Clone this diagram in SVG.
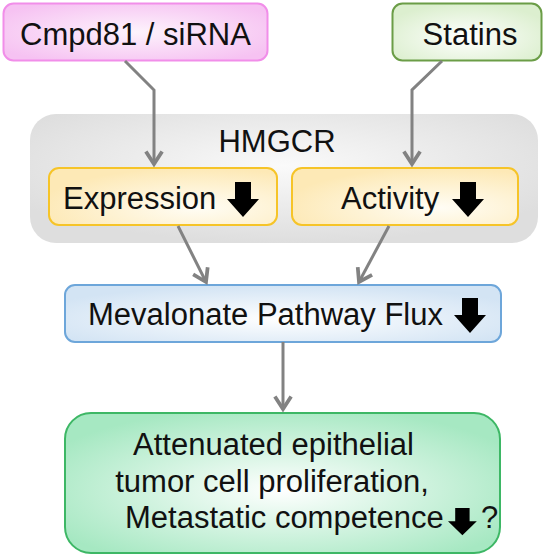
<svg xmlns="http://www.w3.org/2000/svg" width="549" height="558" viewBox="0 0 549 558">
<style>
.t{font-family:"Liberation Sans",Arial,sans-serif;font-size:31px;fill:#111}
.c{fill:none;stroke:#828282;stroke-width:3}
.dn{fill:#000}
</style>
<defs>
<radialGradient id="gPink" cx="0.5" cy="0.5" r="0.6"><stop offset="0" stop-color="#fdf3fc"/><stop offset="1" stop-color="#f6c2f2"/></radialGradient>
<radialGradient id="gLime" cx="0.5" cy="0.6" r="0.6"><stop offset="0" stop-color="#ffffff"/><stop offset="1" stop-color="#dcefcf"/></radialGradient>
<radialGradient id="gGray" cx="0.5" cy="0.4" r="0.6"><stop offset="0" stop-color="#fafafa"/><stop offset="1" stop-color="#dedede"/></radialGradient>
<radialGradient id="gYel" cx="0.65" cy="0.7" r="0.7"><stop offset="0" stop-color="#fffdf5"/><stop offset="1" stop-color="#fde9b6"/></radialGradient>
<radialGradient id="gBlue" cx="0.5" cy="0.6" r="0.6"><stop offset="0" stop-color="#ffffff"/><stop offset="1" stop-color="#d3e4f4"/></radialGradient>
<radialGradient id="gGreen" cx="0.5" cy="0.55" r="0.6"><stop offset="0" stop-color="#ffffff"/><stop offset="1" stop-color="#a6e8c2"/></radialGradient>
<marker id="ah" markerUnits="userSpaceOnUse" markerWidth="20" markerHeight="20" viewBox="-12 -8 14 16" refX="0" refY="0" orient="auto">
<path d="M-10,-6.5 L0,0 L-10,6.5" fill="none" stroke="#828282" stroke-width="3"/>
</marker>
<path id="dArrow" d="M8,0 H24 V17 H32 L16,35 L0,17 H8 Z"/>
</defs>

<g id="cmpd81">
<rect x="3.5" y="3.5" width="264" height="57" rx="10" fill="url(#gPink)" stroke="#f18ee9" stroke-width="2"/>
<text class="t" x="135.5" y="45" text-anchor="middle">Cmpd81 / siRNA</text>
</g>

<g id="statins">
<rect x="392.5" y="3.5" width="149" height="57" rx="10" fill="url(#gLime)" stroke="#6b9d47" stroke-width="2"/>
<text class="t" x="470" y="45" text-anchor="middle">Statins</text>
</g>

<g id="hmgcr">
<rect x="30" y="114" width="508" height="129" rx="26" fill="url(#gGray)"/>
<text class="t" x="277" y="152" text-anchor="middle">HMGCR</text>
</g>

<g id="expression">
<rect x="49" y="168" width="228" height="57" rx="10" fill="url(#gYel)" stroke="#f6c428" stroke-width="2"/>
<text class="t" x="63" y="209">Expression</text>
<use href="#dArrow" class="dn" x="227" y="182"/>
</g>

<g id="activity">
<rect x="292" y="168" width="226" height="57" rx="10" fill="url(#gYel)" stroke="#f6c428" stroke-width="2"/>
<text class="t" x="341" y="209">Activity</text>
<use href="#dArrow" class="dn" x="452" y="182"/>
</g>

<g id="mevalonate">
<rect x="65" y="285" width="436" height="57" rx="10" fill="url(#gBlue)" stroke="#6da6da" stroke-width="2"/>
<text class="t" x="88" y="325">Mevalonate Pathway Flux</text>
<use href="#dArrow" class="dn" x="454" y="298"/>
</g>

<g id="outcome">
<rect x="65" y="413" width="435" height="140" rx="26" fill="url(#gGreen)" stroke="#3db765" stroke-width="2"/>
<text class="t" x="273.5" y="455" text-anchor="middle">Attenuated epithelial</text>
<text class="t" x="272" y="492" text-anchor="middle">tumor cell proliferation,</text>
<text class="t" x="125" y="528">Metastatic competence</text>
<use href="#dArrow" class="dn" transform="translate(448,508) scale(0.9,0.78)"/>
<text class="t" x="481" y="528">?</text>
</g>

<g id="connectors">
<path class="c" d="M125,61 L154,90 L154,164" marker-end="url(#ah)"/>
<path class="c" d="M442,61 L412,90 L412,164" marker-end="url(#ah)"/>
<path class="c" d="M178,226 L206,282" marker-end="url(#ah)"/>
<path class="c" d="M389,226 L359,282" marker-end="url(#ah)"/>
<path class="c" d="M283,342 L283,409" marker-end="url(#ah)"/>
</g>
</svg>
